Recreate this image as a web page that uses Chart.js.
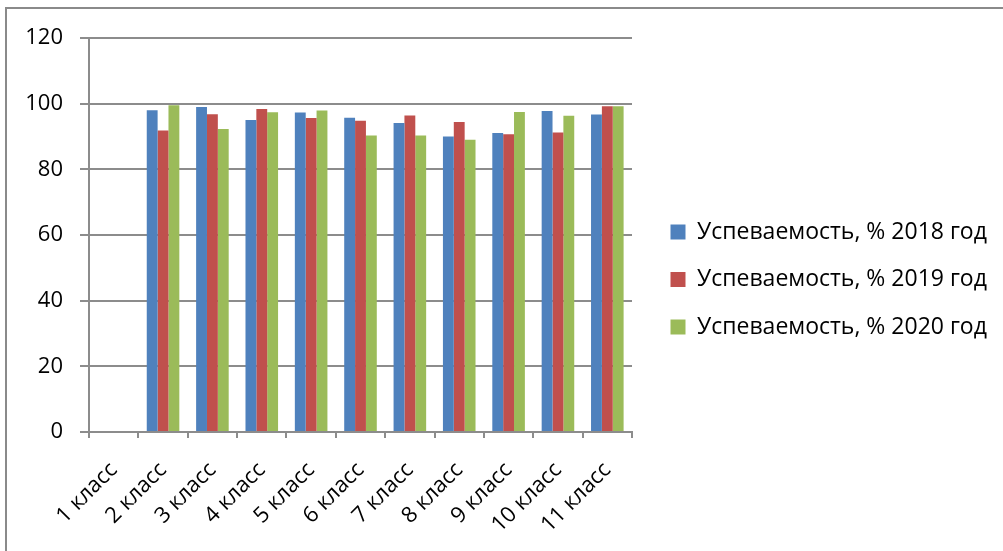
<!DOCTYPE html>
<html>
<head>
<meta charset="utf-8">
<script src="https://cdn.jsdelivr.net/npm/chart.js@4"></script>
<style>
  html, body { margin: 0; padding: 0; background: #fff; }
  #wrap { position: relative; width: 1003px; height: 551px; overflow: hidden; }
  #frame { position: absolute; left: 5px; top: 7px; width: 1100px; height: 600px;
           border-left: 2px solid #8a8a8a; border-top: 2px solid #8a8a8a; }
  canvas { position: absolute; left: 0; top: 0; }
</style>
</head>
<body>
<div id="wrap">
  <div id="frame"></div>
  <canvas id="c" width="1003" height="551"></canvas>
</div>
<script>
const categories = ['1 класс','2 класс','3 класс','4 класс','5 класс','6 класс','7 класс','8 класс','9 класс','10 класс','11 класс'];
const seriesNames = ['Успеваемость, % 2018 год','Успеваемость, % 2019 год','Успеваемость, % 2020 год'];
const values2018 = [null, 98.0, 99.0, 95.0, 97.3, 95.7, 94.1, 90.0, 91.1, 97.8, 96.7];
const values2019 = [null, 91.8, 96.8, 98.4, 95.6, 94.8, 96.4, 94.4, 90.7, 91.2, 99.2];
const values2020 = [null, 99.5, 92.3, 97.4, 97.9, 90.3, 90.3, 89.0, 97.5, 96.3, 99.2];
const yTicks = [0, 20, 40, 60, 80, 100, 120];

const FONT = { family: "'Open Sans', 'Noto Sans', sans-serif", size: 22 };
const LEGEND_FONT = { family: "'Open Sans', 'Noto Sans', sans-serif", size: 23 };
const GRID = '#8c8c8c';

const legendFix = {
  id: 'legendFix',
  beforeLayout(chart) {
    const lg = chart.legend;
    if (lg && !lg._patched) {
      const f = lg.fit.bind(lg);
      lg.fit = function () { f(); this.width = 371; };
      lg._patched = true;
    }
  },
  afterLayout(chart) {
    const lg = chart.legend;
    if (lg) {
      lg.left = 646;
      lg.top = 196;
    }
  }
};

new Chart(document.getElementById('c'), {
  type: 'bar',
  data: {
    labels: categories,
    datasets: [
      { label: seriesNames[0], data: values2018, backgroundColor: '#4F81BD' },
      { label: seriesNames[1], data: values2019, backgroundColor: '#C0504D' },
      { label: seriesNames[2], data: values2020, backgroundColor: '#9BBB59' }
    ]
  },
  options: {
    responsive: false,
    animation: false,
    devicePixelRatio: 1,
    layout: { padding: { top: 38, left: 0, right: 0, bottom: 0 } },
    datasets: { bar: { barPercentage: 1, categoryPercentage: 0.66 } },
    plugins: {
      legend: {
        position: 'right',
        align: 'start',
        labels: {
          font: LEGEND_FONT, color: '#000',
          boxWidth: 15, boxHeight: 15, padding: 24.5
        }
      },
      tooltip: { enabled: false }
    },
    scales: {
      x: {
        grid: { drawOnChartArea: false, drawTicks: true, tickLength: 6, color: GRID, lineWidth: 2, offset: true },
        border: { color: GRID, width: 2 },
        ticks: { font: FONT, color: '#000', minRotation: 45, maxRotation: 45, autoSkip: false, padding: 19 },
        afterFit(scale) { scale.height = 119; }
      },
      y: {
        min: 0, max: 120,
        afterBuildTicks(scale) { scale.ticks = yTicks.map(v => ({ value: v })); },
        grid: { color: GRID, lineWidth: 2, tickLength: 9 },
        border: { color: GRID, width: 2 },
        ticks: { font: FONT, color: '#000', padding: 17 },
        afterFit(scale) { scale.width = 89; }
      }
    }
  },
  plugins: [legendFix]
});
</script>
</body>
</html>
